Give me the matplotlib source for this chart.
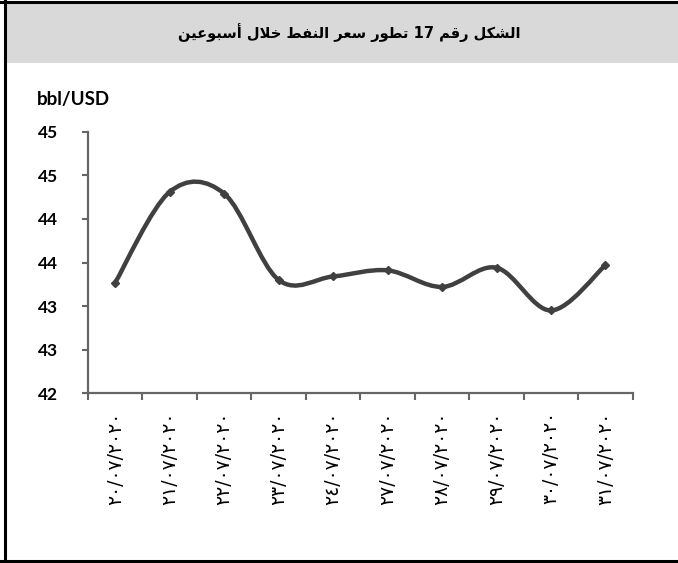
import matplotlib
matplotlib.use("Agg")
import matplotlib.pyplot as plt
from matplotlib.path import Path
from matplotlib.patches import PathPatch, Rectangle
from matplotlib.lines import Line2D
import numpy as np

title = "الشكل رقم 17 تطور سعر النفط خلال أسبوعين"
unit_label = "bbl/USD"
dates = ["٢٠/٠٧/٢٠٢٠", "٢١/٠٧/٢٠٢٠", "٢٢/٠٧/٢٠٢٠", "٢٣/٠٧/٢٠٢٠", "٢٤/٠٧/٢٠٢٠",
         "٢٧/٠٧/٢٠٢٠", "٢٨/٠٧/٢٠٢٠", "٢٩/٠٧/٢٠٢٠", "٣٠/٠٧/٢٠٢٠", "٣١/٠٧/٢٠٢٠"]
prices = [43.27, 44.31, 44.29, 43.30, 43.34, 43.41, 43.22, 43.44, 42.95, 43.47]
yticks = [42.0, 42.5, 43.0, 43.5, 44.0, 44.5, 45.0]
ytick_labels = ["42", "43", "43", "44", "44", "45", "45"]

# isolated, final, initial, medial
FORMS = {
    "ا": ("\uFE8D", "\uFE8E", None, None),
    "أ": ("\uFE83", "\uFE84", None, None),
    "ب": ("\uFE8F", "\uFE90", "\uFE91", "\uFE92"),
    "ت": ("\uFE95", "\uFE96", "\uFE97", "\uFE98"),
    "خ": ("\uFEA5", "\uFEA6", "\uFEA7", "\uFEA8"),
    "ر": ("\uFEAD", "\uFEAE", None, None),
    "س": ("\uFEB1", "\uFEB2", "\uFEB3", "\uFEB4"),
    "ش": ("\uFEB5", "\uFEB6", "\uFEB7", "\uFEB8"),
    "ط": ("\uFEC1", "\uFEC2", "\uFEC3", "\uFEC4"),
    "ع": ("\uFEC9", "\uFECA", "\uFECB", "\uFECC"),
    "ف": ("\uFED1", "\uFED2", "\uFED3", "\uFED4"),
    "ق": ("\uFED5", "\uFED6", "\uFED7", "\uFED8"),
    "ك": ("\uFED9", "\uFEDA", "\uFEDB", "\uFEDC"),
    "ل": ("\uFEDD", "\uFEDE", "\uFEDF", "\uFEE0"),
    "م": ("\uFEE1", "\uFEE2", "\uFEE3", "\uFEE4"),
    "ن": ("\uFEE5", "\uFEE6", "\uFEE7", "\uFEE8"),
    "و": ("\uFEED", "\uFEEE", None, None),
    "ي": ("\uFEF1", "\uFEF2", "\uFEF3", "\uFEF4"),
}
LAM_ALEF = {"ا": ("\uFEFB", "\uFEFC"), "أ": ("\uFEF7", "\uFEF8")}


def shape_word(word):
    out = []
    i = 0
    prev_joins = False
    while i < len(word):
        ch = word[i]
        if ch == "ل" and i + 1 < len(word) and word[i + 1] in LAM_ALEF:
            out.append(LAM_ALEF[word[i + 1]][1 if prev_joins else 0])
            prev_joins = False
            i += 2
            continue
        iso, fin, ini, med = FORMS[ch]
        nxt = i + 1 < len(word) and word[i + 1] in FORMS
        if ini is None:
            out.append(fin if prev_joins else iso)
            prev_joins = False
        else:
            if prev_joins and nxt:
                out.append(med)
            elif prev_joins:
                out.append(fin)
            elif nxt:
                out.append(ini)
            else:
                out.append(iso)
            prev_joins = nxt
        i += 1
    return "".join(out)


def visual(text):
    words = []
    for w in text.split(" "):
        if w[0] in FORMS:
            words.append(shape_word(w)[::-1])
        else:
            words.append(w)
    return " ".join(words[::-1])


fig = plt.figure(figsize=(6.78, 5.63), dpi=100)

# header band and frame
fig.add_artist(Rectangle((6 / 678, 1 - 63 / 563), 1, 60 / 563, transform=fig.transFigure,
                         facecolor="#d9d9d9", edgecolor="none"))
fig.add_artist(Line2D([0, 1], [1 - 1.5 / 563] * 2, transform=fig.transFigure, color="black", lw=2.2))
fig.add_artist(Line2D([5 / 678] * 2, [0, 1], transform=fig.transFigure, color="black", lw=2.2))
fig.add_artist(Line2D([0, 1], [1 - 561 / 563] * 2, transform=fig.transFigure, color="black", lw=2.2))

fig.text(349 / 678, 1 - 33 / 563, visual(title), ha="center", va="center",
         fontsize=10.5, fontweight="bold", family="DejaVu Sans")
fig.text(37 / 678, 1 - 100 / 563, unit_label, ha="left", va="center",
         fontsize=13.5, fontweight="bold", family="Lato")

ax = fig.add_axes([88 / 678, 1 - 393.3 / 563, (632.7 - 88) / 678, (393.3 - 131.7) / 563])

# smoothed line (Catmull-Rom as cubic Bezier)
x = np.arange(len(prices), dtype=float)
y = np.asarray(prices)
pts = np.column_stack([x, y])
ext = np.vstack([pts[0], pts, pts[-1]])
verts = [pts[0]]
codes = [Path.MOVETO]
for k in range(len(pts) - 1):
    p0, p1, p2, p3 = ext[k], ext[k + 1], ext[k + 2], ext[k + 3]
    verts += [p1 + (p2 - p0) / 6, p2 - (p3 - p1) / 6, p2]
    codes += [Path.CURVE4] * 3
ax.add_patch(PathPatch(Path(verts, codes), facecolor="none", edgecolor="#404040",
                       lw=3.2, capstyle="butt", joinstyle="round"))
ax.plot(x, y, linestyle="none", marker="D", markersize=4.5, color="#404040")

ax.set_xlim(-0.5, len(prices) - 0.5)
ax.set_ylim(42, 45)

ax.set_xticks(x)
ax.set_xticklabels(dates, rotation=90, fontsize=13.5, family="DejaVu Sans", va="top", ha="center")
ax.set_xticks(np.arange(-0.5, len(prices)), minor=True)
ax.tick_params(axis="x", which="major", length=0, pad=13)
ax.tick_params(axis="x", which="minor", length=5, width=1.5, color="#666666", direction="out")

ax.set_yticks(yticks)
ax.set_yticklabels(ytick_labels, fontsize=12.5, fontweight="bold", family="Lato")
ax.tick_params(axis="y", length=4.5, width=1.5, color="#666666", direction="out", pad=17)

for side in ["top", "right"]:
    ax.spines[side].set_visible(False)
for side in ["left", "bottom"]:
    ax.spines[side].set_color("#666666")
    ax.spines[side].set_linewidth(1.6)

fig.savefig("out.png", dpi=100)
